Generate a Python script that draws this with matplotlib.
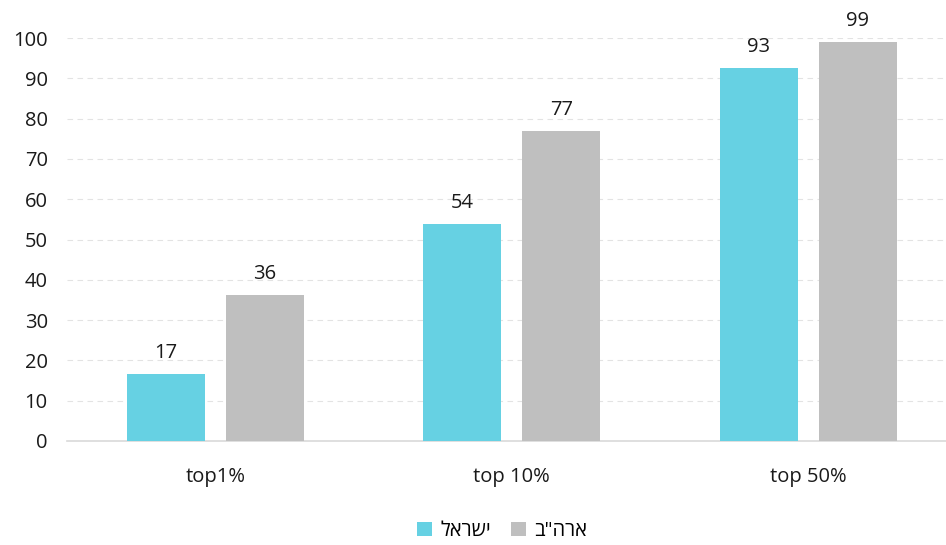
import matplotlib
matplotlib.use("Agg")
import matplotlib.pyplot as plt
import numpy as np

categories = ["top1%", "top 10%", "top 50%"]
israel = [16.6, 53.9, 92.6]
usa = [36.3, 76.9, 99.1]
series_labels = ["ישראל", 'ארה"ב']
yticks = [0, 10, 20, 30, 40, 50, 60, 70, 80, 90, 100]

CYAN = "#66d1e3"
GRAY = "#bfbfbf"
FS = 14.5

plt.rcParams["font.family"] = ["Open Sans", "DejaVu Sans"]


def rtl(s: str) -> str:
    # matplotlib has no bidi support, flip Hebrew by hand
    return s[::-1]


fig = plt.figure(figsize=(9.46, 5.45), dpi=100)
ax = fig.add_axes([0.071, 0.191, 0.929, 0.739])

x = np.arange(len(categories))
width = 0.263
off = 0.167

b1 = ax.bar(x - off, israel, width, color=CYAN, label=rtl(series_labels[0]), zorder=3)
b2 = ax.bar(x + off, usa, width, color=GRAY, label=rtl(series_labels[1]), zorder=3)

for bars, vals in ((b1, israel), (b2, usa)):
    for rect, v in zip(bars, vals):
        ax.annotate(f"{v:.0f}", (rect.get_x() + rect.get_width() / 2, v),
                    xytext=(0, 8), textcoords="offset points",
                    ha="center", va="bottom", fontsize=FS, color="#1a1a1a",
                    annotation_clip=False)

ax.set_ylim(0, 100)
ax.set_xlim(-0.5, 2.465)
ax.set_yticks(yticks)
ax.set_xticks(x)
ax.set_xticklabels(categories)
ax.tick_params(axis="both", length=0, labelsize=FS, colors="#1a1a1a")
ax.tick_params(axis="x", pad=19)
ax.tick_params(axis="y", pad=14)
ax.grid(axis="y", color="#e3e3e3", linestyle=(0, (5, 4)), linewidth=0.8, zorder=0)
for side in ("top", "right", "left"):
    ax.spines[side].set_visible(False)
ax.spines["bottom"].set_color("#d9d9d9")
ax.spines["bottom"].set_linewidth(1.2)

ax.legend(loc="center", bbox_to_anchor=(0.495, -0.224), ncol=2, frameon=False,
          fontsize=FS, handlelength=0.75, handleheight=0.75, handletextpad=0.4,
          columnspacing=1.0)

fig.savefig("out.png", dpi=100)
